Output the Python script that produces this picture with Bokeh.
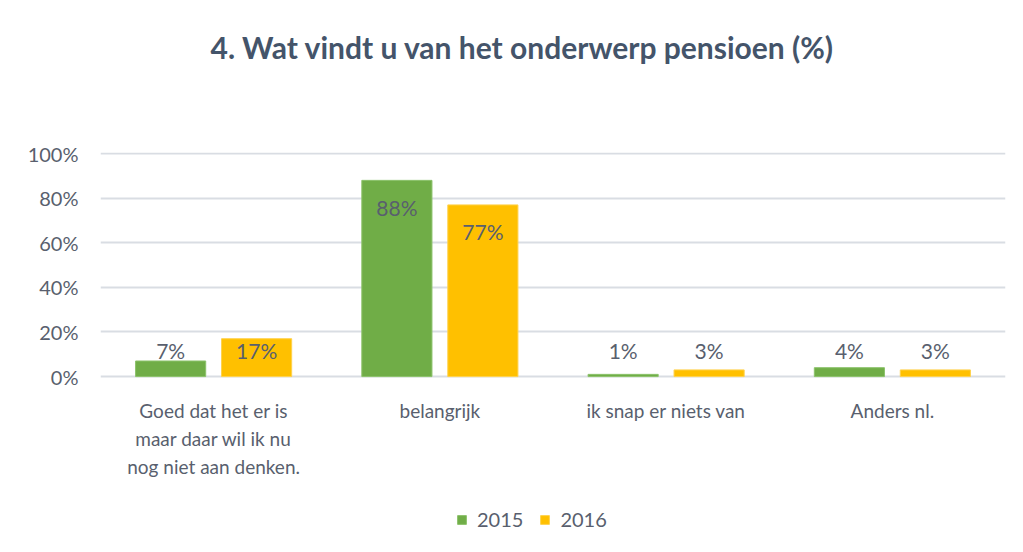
from bokeh.plotting import figure
from bokeh.models import (FactorRange, Range1d, ColumnDataSource, PrintfTickFormatter,
                          FixedTicker, Legend, LegendItem, Title)
from bokeh.transform import dodge
from bokeh.embed import file_html
from bokeh.resources import INLINE
from bokeh.core.properties import value

# ---- data ----
categories = ["Goed dat het er is\nmaar daar wil ik nu\nnog niet aan denken.",
              "belangrijk", "ik snap er niets van", "Anders nl."]
years = ["2015", "2016"]
values_2015 = [7, 88, 1, 4]
values_2016 = [17, 77, 3, 3]
y_ticks = [0, 20, 40, 60, 80, 100]
title_text = "4. Wat vindt u van het onderwerp pensioen (%)"

# ---- style ----
FONT = "Lato"
GREEN = "#70AD47"
ORANGE = "#FFC000"
TEXT = "#595F6E"
TITLE_COLOR = "#44546A"
GRID = "#D9DDE3"

# frame extends below 0% so the category labels and legend live inside it
p = figure(frame_width=905, frame_height=392,
           x_range=FactorRange(factors=categories, range_padding=0),
           y_range=Range1d(-75.3, 100.5), title=None,
           output_backend="svg", toolbar_location=None,
           min_border_left=100, min_border_right=10,
           min_border_top=152, min_border_bottom=0)
p.outline_line_color = None
p.background_fill_color = "white"
p.border_fill_color = "white"

# axes
p.xaxis.visible = False
p.yaxis.ticker = FixedTicker(ticks=y_ticks)
p.yaxis.formatter = PrintfTickFormatter(format="%d%%")
yax = p.yaxis[0]
yax.axis_line_color = None
yax.major_tick_line_color = None
yax.minor_tick_line_color = None
yax.major_label_text_font = FONT
yax.major_label_text_color = TEXT
yax.major_label_text_font_size = "20px"
yax.major_label_standoff = 16
p.xgrid.grid_line_color = None
p.ygrid.grid_line_color = GRID
p.ygrid.grid_line_width = 2

# bars
def label_y(v):
    return max(v, 24)

src = ColumnDataSource(dict(
    cat=categories,
    v15=values_2015, v16=values_2016,
    t15=[f"{v}%" for v in values_2015], t16=[f"{v}%" for v in values_2016],
    y15=[label_y(v) for v in values_2015], y16=[label_y(v) for v in values_2016],
))

r15 = p.vbar(x=dodge("cat", -0.19, range=p.x_range), top="v15", width=0.31, source=src,
             fill_color=GREEN, line_color="#8CC26B", line_width=1)
r16 = p.vbar(x=dodge("cat", 0.19, range=p.x_range), top="v16", width=0.31, source=src,
             fill_color=ORANGE, line_color="#FFD24D", line_width=1)

for xs, ys, ts in ((-0.19, "y15", "t15"), (0.19, "y16", "t16")):
    p.text(x=dodge("cat", xs, range=p.x_range), y=ys, text=ts, source=src,
           y_offset=27, text_align="center", text_baseline="middle",
           text_font=value(FONT), text_font_size="21px", text_color=TEXT)

# category labels under the 0% line
p.text(x="cat", y=0, text="cat", source=src, y_offset=22,
       text_align="center", text_baseline="top", text_line_height=1.22,
       text_font=value(FONT), text_font_size="19px", text_color=TEXT)

# legend (inside the extended frame, near its bottom)
legend = Legend(items=[LegendItem(label=years[0], renderers=[r15]),
                       LegendItem(label=years[1], renderers=[r16])],
                orientation="horizontal", location=(356, 13),
                label_text_font=FONT, label_text_font_size="20px", label_text_color=TEXT,
                glyph_width=11, glyph_height=11, spacing=16, label_standoff=10,
                border_line_color=None, background_fill_alpha=0, margin=0, padding=0)
p.add_layout(legend)

# spacer between frame and title, then the title itself
p.add_layout(Title(text=" ", text_font=FONT, text_font_size="30px", standoff=45), "above")
p.add_layout(Title(text=title_text, text_font=FONT, text_font_size="30px",
                   text_font_style="bold", text_color=TITLE_COLOR,
                   align="left", offset=110, standoff=10), "above")

open("out.html", "w").write(file_html(p, INLINE))
